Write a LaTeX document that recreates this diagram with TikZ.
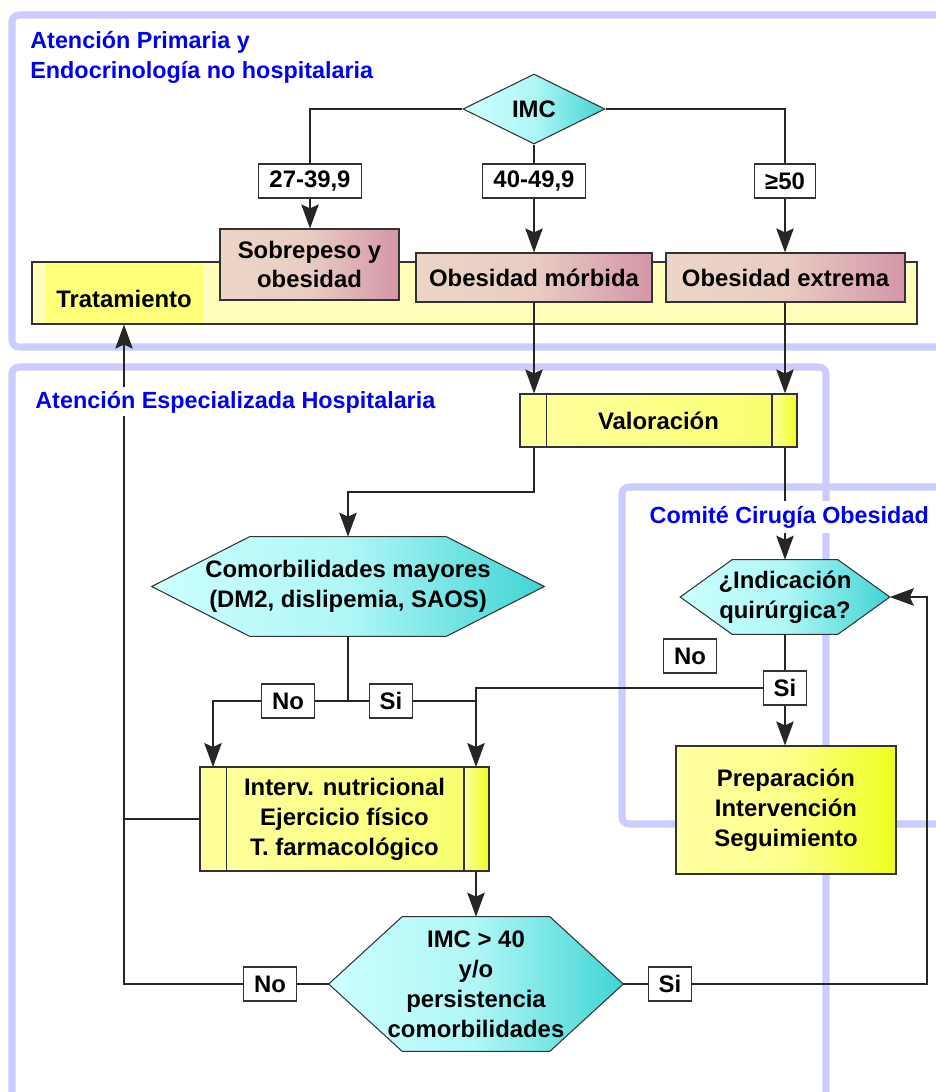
\documentclass[tikz,border=0pt]{standalone}
\usepackage{fontspec}
\setmainfont{Liberation Sans}
\usetikzlibrary{shapes.geometric,arrows.meta}

\definecolor{frameblue}{RGB}{204,204,255}
\definecolor{labblue}{RGB}{0,0,240}
\definecolor{edge}{RGB}{51,51,51}
\definecolor{pinkA}{RGB}{236,214,200}
\definecolor{pinkB}{RGB}{212,150,166}
\definecolor{yelA}{RGB}{255,255,160}
\definecolor{yelB}{RGB}{238,255,30}
\definecolor{bandY}{RGB}{255,255,187}
\definecolor{tratY}{RGB}{255,255,120}
\definecolor{cyanA}{RGB}{204,255,255}
\definecolor{cyanB}{RGB}{64,212,212}

\pgfdeclarelayer{frames}
\pgfdeclarelayer{back}
\pgfsetlayers{frames,back,main}

\newcommand{\hexback}[2]{%
  \begin{pgfonlayer}{back}
  \path[hexfill] (#1.west) -- ([xshift=#2]#1.north west) -- ([xshift=-#2]#1.north east) -- (#1.east)
    -- ([xshift=-#2]#1.south east) -- ([xshift=#2]#1.south west) -- cycle;
  \end{pgfonlayer}}

\begin{document}
\begin{tikzpicture}[x=0.02cm,y=-0.02cm,
  font=\fontsize{13.6}{17}\selectfont\bfseries,
  frame/.style={draw=frameblue,line width=4pt,rounded corners=4pt},
  region/.style={text=labblue,align=left,inner sep=0pt,font=\fontsize{13.3}{17}\selectfont\bfseries},
  pinkbox/.style={draw=edge,line width=0.7pt,left color=pinkA,right color=pinkB,middle color=pinkA!85!pinkB,align=center,inner sep=0pt},
  yelbox/.style={draw=edge,line width=0.7pt,left color=yelA,right color=yelB,middle color=yelA!85!yelB,align=center,inner sep=0pt},
  procbox/.style={yelbox,right color=yelA!60!yelB,
    path picture={
      \shade[left color=yelA,right color=yelB] (path picture bounding box.north west) rectangle ([xshift=0.53cm]path picture bounding box.south west);
      \shade[left color=yelA,right color=yelB] (path picture bounding box.north east) rectangle ([xshift=-0.5cm]path picture bounding box.south east);
      \draw[edge,line width=0.7pt] ([xshift=0.53cm]path picture bounding box.north west) -- ([xshift=0.53cm]path picture bounding box.south west);
      \draw[edge,line width=0.7pt] ([xshift=-0.5cm]path picture bounding box.north east) -- ([xshift=-0.5cm]path picture bounding box.south east);
    }},
  hexa/.style={align=center,inner sep=0pt},
  hexfill/.style={draw=edge,line width=0.6pt,left color=cyanA,right color=cyanB,middle color=cyanA!80!cyanB},
  tag/.style={draw=edge,fill=white,line width=0.6pt,inner xsep=6pt,inner ysep=0pt,minimum height=0.68cm},
  conn/.style={draw=black!85,line width=0.6pt},
  arr/.style={-{Stealth[length=0.48cm,width=0.35cm,inset=0.08cm]}}]
\useasboundingbox (0,0) rectangle (936,1092);

\begin{pgfonlayer}{frames}
\draw[frame] (936,15) -- (12,15) -- (12,347) -- (936,347);
\draw[frame] (826,1092) -- (826,367) -- (12,367) -- (12,1092);
\draw[frame] (936,487) -- (622,487) -- (622,824) -- (936,824);
\end{pgfonlayer}

\node[draw=edge,line width=0.7pt,fill=bandY,minimum width=17.7cm,minimum height=1.24cm] (band) at (474.5,293) {};
\node[fill=tratY,minimum width=3.16cm,minimum height=1.19cm,text height=17pt,text depth=0pt] (trat) at (124,293) {Tratamiento};

\node[diamond,draw=edge,line width=0.6pt,left color=cyanA,right color=cyanB,middle color=cyanA!80!cyanB,inner sep=0pt,minimum width=2.84cm,minimum height=1.4cm] (imc) at (534,109) {IMC};
\node[tag] (l1) at (310,181) {27-39,9};
\node[tag] (l2) at (534,181) {40-49,9};
\node[tag] (l3) at (785,181) {≥50};
\node[pinkbox,minimum width=3.58cm,minimum height=1.42cm] (sob) at (309.5,264.5) {Sobrepeso y\\obesidad};
\node[pinkbox,minimum width=4.72cm,minimum height=0.98cm] (morb) at (534,277.5) {Obesidad mórbida};
\node[pinkbox,minimum width=4.78cm,minimum height=0.98cm] (ext) at (785.5,277.5) {Obesidad extrema};

\node[procbox,minimum width=5.54cm,minimum height=1.06cm] (valor) at (658.5,420.5) {Valoración};
\node[hexa,minimum width=7.84cm,minimum height=1.98cm] (comorb) at (348,586.5) {Comorbilidades mayores\\(DM2, dislipemia, SAOS)};
\hexback{comorb}{1.96cm}
\node[hexa,minimum width=4.18cm,minimum height=1.48cm] (ind) at (785,597) {¿Indicación\\quirúrgica?};
\hexback{ind}{1.04cm}
\node[tag] (no1) at (288,701) {No};
\node[tag] (si1) at (391,701) {Si};
\node[tag] (no3) at (690,656) {No};
\node[tag] (si2) at (785,688) {Si};
\node[procbox,minimum width=5.78cm,minimum height=2.08cm] (interv) at (344.5,819) {Interv. nutricional\\Ejercicio físico\\T. farmacológico};
\node[yelbox,minimum width=4.4cm,minimum height=2.56cm] (prep) at (786,810) {Preparación\\Intervención\\Seguimiento};
\node[hexa,minimum width=5.88cm,minimum height=2.68cm] (imc40) at (476,984) {IMC > 40\\y/o\\persistencia\\comorbilidades};
\hexback{imc40}{1.47cm}
\node[tag] (no2) at (270,984) {No};
\node[tag] (si3) at (670,984) {Si};

\draw[conn] (imc.west) -| (l1.north);
\draw[conn,arr] (l1.south) -- (l1.south |- sob.north);
\draw[conn] (imc.south) -- (l2.north);
\draw[conn,arr] (l2.south) -- (l2.south |- morb.north);
\draw[conn] (imc.east) -| (l3.north);
\draw[conn,arr] (l3.south) -- (l3.south |- ext.north);
\draw[conn,arr] (l2.south |- morb.south) -- (l2.south |- valor.north);
\draw[conn,arr] (l3.south |- ext.south) -- (l3.south |- valor.north);
\coordinate (v1) at (534,492);
\draw[conn,arr] (l2.south |- valor.south) -- (v1) -| (comorb.north);
\draw[conn,arr] (l3.south |- valor.south) -- (ind.north);
\coordinate (c1) at (348,701);
\coordinate (i1) at (213,767);
\coordinate (i2) at (476,767);
\draw[conn] (comorb.south) -- (c1);
\draw[conn] (c1) -- (no1.east);
\draw[conn] (c1) -- (si1.west);
\draw[conn,arr] (no1.west) -| (i1);
\draw[conn] (si1.east) -- (si1.east -| i2);
\draw[conn] (ind.south) -- (si2.north);
\draw[conn,arr] (si2.west) -| (i2);
\draw[conn,arr] (si2.south) -- (si2.south |- prep.north);
\draw[conn,arr] (i2 |- interv.south) -- (imc40.north);
\draw[conn] (interv.west) -- (interv.west -| trat.south);
\draw[conn] (imc40.west) -- (no2.east);
\draw[conn,arr] (no2.west) -| (trat.south |- band.south);
\coordinate (r1) at (927,597);
\draw[conn] (imc40.east) -- (si3.west);
\draw[conn,arr] (si3.east) -| (r1) -- (ind.east);

\node[region,anchor=north west] (apt) at (30,31) {Atención Primaria y\\Endocrinología no hospitalaria};
\node[region,fill=white,inner sep=2pt,anchor=base west] (aeh) at (31.5,408) {Atención Especializada Hospitalaria};
\node[region,fill=white,inner sep=3pt,anchor=base west] (cco) at (644,523) {Comité Cirugía Obesidad};
\end{tikzpicture}
\end{document}
